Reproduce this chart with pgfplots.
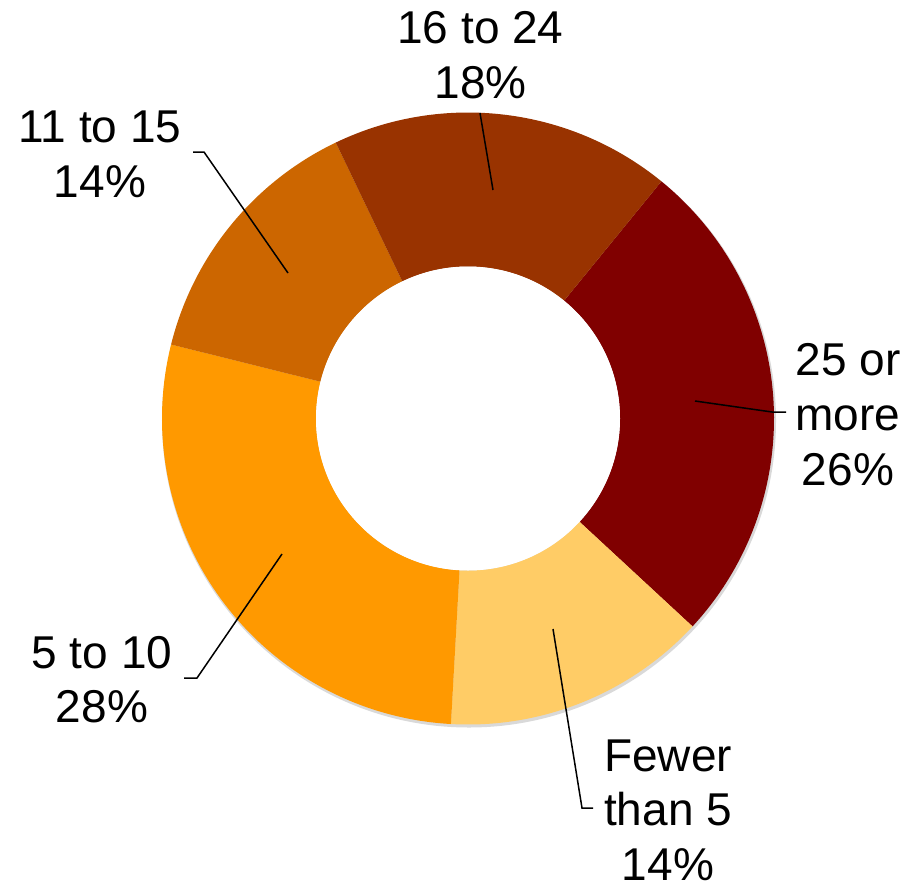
\documentclass[border=0pt]{standalone}
\usepackage{pgfplots}
\pgfplotsset{compat=1.18}
\usepackage{pgfplotstable}
\usepackage{fontspec}
\setmainfont{Liberation Sans}
\definecolor{cA}{HTML}{800000}
\definecolor{cB}{HTML}{FFCC66}
\definecolor{cC}{HTML}{FF9900}
\definecolor{cD}{HTML}{CC6600}
\definecolor{cE}{HTML}{993300}

% shares in percent, clockwise starting at the 25-or-more slice
\pgfplotstableread{
share
26
14
28
14
18
}\donutdata

\begin{document}
\begin{tikzpicture}
\pgfmathsetmacro{\aS}{50.8}
\pgfplotstablegetelem{0}{share}\of\donutdata \pgfmathsetmacro{\aA}{\aS-3.6*\pgfplotsretval}
\pgfplotstablegetelem{1}{share}\of\donutdata \pgfmathsetmacro{\aB}{\aA-3.6*\pgfplotsretval}
\pgfplotstablegetelem{2}{share}\of\donutdata \pgfmathsetmacro{\aC}{\aB-3.6*\pgfplotsretval}
\pgfplotstablegetelem{3}{share}\of\donutdata \pgfmathsetmacro{\aD}{\aC-3.6*\pgfplotsretval}
\pgfplotstablegetelem{4}{share}\of\donutdata \pgfmathsetmacro{\aE}{\aD-3.6*\pgfplotsretval}
\def\Ro{306bp}\def\Ri{152bp}
\begin{axis}[x=1bp,y=1bp,xmin=0,xmax=918,ymin=0,ymax=888,y dir=reverse,
  hide axis,clip=false,scale only axis]
\coordinate (LL) at (axis cs:0,888);
\coordinate (UR) at (axis cs:918,0);
% faint shadow
\fill[black!15] ([shift={(1bp,-2bp)}]axis cs:468,418.5) circle[radius=307bp];
\fill[cA] ([shift={(\aS:\Ro)}]axis cs:468,418.5) arc[start angle=\aS,end angle=\aA,radius=\Ro]
  -- ([shift={(\aA:\Ri)}]axis cs:468,418.5) arc[start angle=\aA,end angle=\aS,radius=\Ri] -- cycle;
\fill[cB] ([shift={(\aA:\Ro)}]axis cs:468,418.5) arc[start angle=\aA,end angle=\aB,radius=\Ro]
  -- ([shift={(\aB:\Ri)}]axis cs:468,418.5) arc[start angle=\aB,end angle=\aA,radius=\Ri] -- cycle;
\fill[cC] ([shift={(\aB:\Ro)}]axis cs:468,418.5) arc[start angle=\aB,end angle=\aC,radius=\Ro]
  -- ([shift={(\aC:\Ri)}]axis cs:468,418.5) arc[start angle=\aC,end angle=\aB,radius=\Ri] -- cycle;
\fill[cD] ([shift={(\aC:\Ro)}]axis cs:468,418.5) arc[start angle=\aC,end angle=\aD,radius=\Ro]
  -- ([shift={(\aD:\Ri)}]axis cs:468,418.5) arc[start angle=\aD,end angle=\aC,radius=\Ri] -- cycle;
\fill[cE] ([shift={(\aD:\Ro)}]axis cs:468,418.5) arc[start angle=\aD,end angle=\aE,radius=\Ro]
  -- ([shift={(\aE:\Ri)}]axis cs:468,418.5) arc[start angle=\aE,end angle=\aD,radius=\Ri] -- cycle;
\fill[white] (axis cs:468,418.5) circle[radius=\Ri];
% leader lines
\tikzset{lead/.style={line width=1.5bp}}
\draw[lead] (axis cs:480,113) -- (axis cs:493,190);
\draw[lead] (axis cs:193,152) -- (axis cs:204,152) -- (axis cs:288,273);
\draw[lead] (axis cs:786,412) -- (axis cs:772,412) -- (axis cs:695,401);
\draw[lead] (axis cs:184,678) -- (axis cs:197,678) -- (axis cs:282,554);
\draw[lead] (axis cs:593,808) -- (axis cs:582,808) -- (axis cs:553,629);
% labels
\tikzset{lab/.style={anchor=base,inner sep=0pt,font=\fontsize{46bp}{55bp}\selectfont}}
\node[lab] at (axis cs:480.5,43) {16 to 24};
\node[lab] at (axis cs:480.5,98) {18\%};
\node[lab] at (axis cs:100,142) {11 to 15};
\node[lab] at (axis cs:100,197) {14\%};
\node[lab] at (axis cs:848,375) {25 or};
\node[lab] at (axis cs:848,430) {more};
\node[lab] at (axis cs:848,485) {26\%};
\node[lab] at (axis cs:102,668) {5 to 10};
\node[lab] at (axis cs:102,722) {28\%};
\node[lab] at (axis cs:668,771) {Fewer};
\node[lab] at (axis cs:668,825) {than 5};
\node[lab] at (axis cs:668,880) {14\%};
\end{axis}
\pgfresetboundingbox
\path (LL) rectangle (UR);
\end{tikzpicture}
\end{document}
